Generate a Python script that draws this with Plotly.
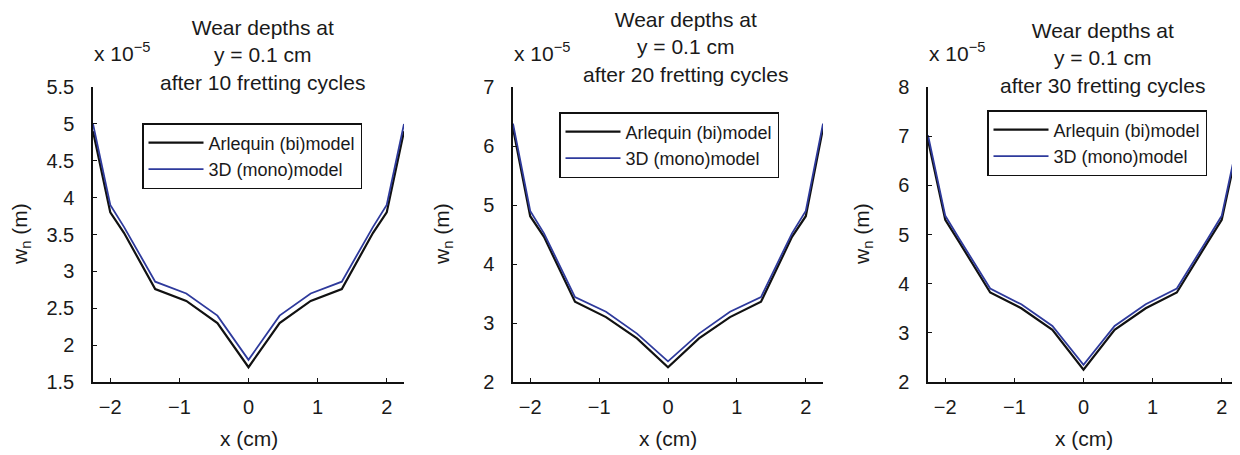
import plotly.graph_objects as go

# x positions (cm)
x_cm = [-2.25, -2.0, -1.8, -1.35, -0.9, -0.45, 0.0, 0.45, 0.9, 1.35, 1.8, 2.0, 2.25]

# wear depths (x 1e-5 m)
arl_10 = [4.90, 3.80, 3.52, 2.76, 2.60, 2.30, 1.70, 2.30, 2.60, 2.76, 3.52, 3.80, 4.90]
mono_10 = [5.00, 3.90, 3.60, 2.86, 2.70, 2.40, 1.80, 2.40, 2.70, 2.86, 3.60, 3.90, 5.00]
arl_20 = [6.30, 4.81, 4.46, 3.36, 3.10, 2.74, 2.25, 2.74, 3.10, 3.36, 4.46, 4.81, 6.30]
mono_20 = [6.38, 4.90, 4.52, 3.44, 3.19, 2.82, 2.35, 2.82, 3.19, 3.44, 4.52, 4.90, 6.38]
arl_30 = [6.92, 5.30, 4.85, 3.82, 3.50, 3.06, 2.25, 3.06, 3.50, 3.82, 4.85, 5.30, 6.92]
mono_30 = [7.02, 5.38, 4.92, 3.90, 3.58, 3.14, 2.35, 3.14, 3.58, 3.90, 4.92, 5.38, 7.02]

cycles = [10, 20, 30]
y_ranges = [[1.5, 5.5], [2, 7], [2, 8]]
y_dticks = [0.5, 1, 1]
x_ticks = [-2, -1, 0, 1, 2]
series_names = ["Arlequin (bi)model", "3D (mono)model"]

# the page body has an 8px margin: figure is drawn from (8, 8)
OFF = 8
W, H = 1240 - OFF, 455 - OFF
FONT = "Liberation Sans, Arial, Helvetica, sans-serif"
BLACK = "#111111"
BLUE = "#2e3a9c"
TXT = "#1a1a1a"


def fx(p):
    return (p - OFF) / W


def fy(p):
    return 1 - (p - OFF) / H


# page-pixel layout of the three panels
px_x = [(93, 404), (513, 823), (928, 1239)]
px_y = (87, 382)
title_cx = [262, 685, 1102]
title_cy = [55, 47, 58]
ylab_cx = [21, 443, 863]
legend_pos = [(142, 123), (559, 112), (987, 110)]

data = [(arl_10, mono_10), (arl_20, mono_20), (arl_30, mono_30)]

fig = go.Figure()
layout = dict(
    template="none",
    width=W, height=H,
    margin=dict(l=0, r=0, t=0, b=0, autoexpand=False),
    paper_bgcolor="white", plot_bgcolor="white",
    font=dict(family=FONT, size=20, color=TXT),
    annotations=[],
)

for i in range(3):
    sfx = "" if i == 0 else str(i + 1)
    xa, ya = "x" + sfx, "y" + sfx
    leg = "legend" if i == 0 else "legend" + str(i + 1)
    arl, mono = data[i]
    fig.add_trace(go.Scatter(x=x_cm, y=arl, mode="lines", name=series_names[0],
                             line=dict(color=BLACK, width=2.2), xaxis=xa, yaxis=ya,
                             legend=leg))
    fig.add_trace(go.Scatter(x=x_cm, y=mono, mode="lines", name=series_names[1],
                             line=dict(color=BLUE, width=1.8), xaxis=xa, yaxis=ya,
                             legend=leg))
    x0, x1 = px_x[i]
    common = dict(showline=True, linecolor=BLACK, linewidth=1.5, ticks="inside",
                  ticklen=4, tickcolor=BLACK, tickwidth=1, showgrid=False,
                  zeroline=False, mirror=False, automargin=False,
                  tickfont=dict(size=20, color=TXT))
    layout["xaxis" + sfx] = dict(domain=[fx(x0), fx(x1)], range=[-2.25, 2.25],
                                 tickvals=x_ticks, anchor=ya, ticklabelstandoff=6,
                                 **common)
    layout["yaxis" + sfx] = dict(domain=[fy(px_y[1]), fy(px_y[0])],
                                 range=y_ranges[i], dtick=y_dticks[i], tick0=0,
                                 anchor=xa, ticklabelstandoff=13, **common)
    lx, ly = legend_pos[i]
    layout[leg] = dict(x=fx(lx), y=fy(ly), xanchor="left", yanchor="top",
                       xref="paper", yref="paper",
                       bordercolor=BLACK, borderwidth=1.5, bgcolor="white",
                       font=dict(size=18, color=TXT),
                       tracegroupgap=0, itemwidth=55)
    # title
    layout["annotations"].append(dict(
        text="Wear depths at<br>y = 0.1 cm<br>after %d fretting cycles" % cycles[i],
        x=fx(title_cx[i]), y=fy(title_cy[i]), xref="paper", yref="paper",
        xanchor="center", yanchor="middle", showarrow=False,
        font=dict(size=21, color=TXT)))
    # exponent label
    layout["annotations"].append(dict(
        text="x 10<sup>\u22125</sup>", x=fx(x0 - 1), y=fy(52),
        xref="paper", yref="paper", xanchor="left", yanchor="middle",
        showarrow=False, font=dict(size=21, color=TXT)))
    # y-axis label
    layout["annotations"].append(dict(
        text="w<sub>n</sub> (m)", x=fx(ylab_cx[i]), y=fy(234),
        xref="paper", yref="paper", xanchor="center", yanchor="middle",
        textangle=-90, showarrow=False, font=dict(size=21, color=TXT)))
    # x-axis label
    layout["annotations"].append(dict(
        text="x (cm)", x=fx((x0 + x1) / 2), y=fy(438),
        xref="paper", yref="paper", xanchor="center", yanchor="middle",
        showarrow=False, font=dict(size=21, color=TXT)))

fig.update_layout(**layout)
fig.write_html("out.html")
